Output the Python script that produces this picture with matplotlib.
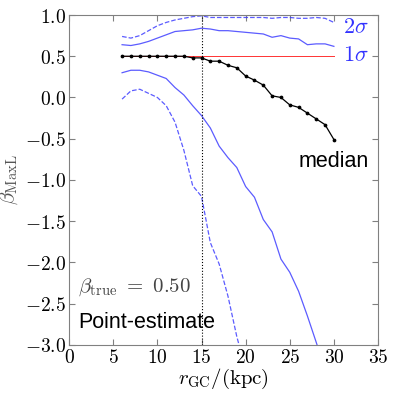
import matplotlib
matplotlib.use("Agg")
import matplotlib.pyplot as plt
from matplotlib.ticker import FuncFormatter
import numpy as np

plt.rcParams['mathtext.fontset'] = 'cm'

# radii (kpc)
r = np.arange(6, 31)

median = [0.50, 0.50, 0.50, 0.50, 0.50, 0.50, 0.50, 0.50, 0.48, 0.48,
          0.44, 0.44, 0.39, 0.36, 0.26, 0.21, 0.15, 0.02, 0.00, -0.09,
          -0.12, -0.19, -0.26, -0.33, -0.51]
up1 = [0.64, 0.63, 0.65, 0.68, 0.72, 0.76, 0.80, 0.81, 0.82, 0.84,
       0.83, 0.81, 0.81, 0.80, 0.79, 0.78, 0.77, 0.73, 0.75, 0.72,
       0.71, 0.64, 0.65, 0.65, 0.62]
up2 = [0.74, 0.72, 0.75, 0.81, 0.87, 0.91, 0.94, 0.96, 0.98, 0.99,
       0.97, 0.97, 0.97, 0.97, 0.97, 0.97, 0.97, 0.96, 0.97, 0.97,
       0.96, 0.96, 0.97, 0.96, 0.91]
lo1 = [0.30, 0.33, 0.33, 0.31, 0.27, 0.23, 0.12, 0.03, -0.10, -0.22,
       -0.37, -0.59, -0.73, -0.85, -1.08, -1.21, -1.48, -1.63, -1.96, -2.12,
       -2.35, -2.65, -2.97, -3.30, -3.60]
lo2 = [-0.02, 0.08, 0.10, 0.05, 0.00, -0.10, -0.30, -0.64, -1.07, -1.20,
       -1.76, -2.02, -2.41, -2.90, -3.30, -3.70, -4.10, -4.50, -4.90, -5.30,
       -5.70, -6.10, -6.50, -6.90, -7.30]
beta_true = 0.50
r_cut = 15

fig = plt.figure(figsize=(3.95, 3.95), dpi=100)
ax = fig.add_axes([0.175, 0.127, 0.782, 0.835])

blue = '#3333ff'
ax.plot(r, up2, '--', color=blue, lw=0.9, alpha=0.8)
ax.plot(r, lo2, '--', color=blue, lw=0.9, alpha=0.8)
ax.plot(r, up1, '-', color=blue, lw=0.9, alpha=0.8)
ax.plot(r, lo1, '-', color=blue, lw=0.9, alpha=0.8)
ax.plot([r[0], r[-1]], [beta_true, beta_true], '-', color='red', lw=0.7,
        alpha=0.8)
ax.plot(r, median, '-', color='black', lw=0.9, marker='o', ms=1.7)
ax.axvline(r_cut, color='black', ls=':', lw=0.8)

ax.set_xlim(0, 35)
ax.set_ylim(-3.0, 1.0)
ax.set_xticks(np.arange(0, 36, 5))
ax.set_yticks(np.arange(-3.0, 1.01, 0.5))
ax.xaxis.set_major_formatter(FuncFormatter(lambda v, p: r'$%d$' % v))
ax.yaxis.set_major_formatter(FuncFormatter(lambda v, p: r'$%.1f$' % v))
ax.tick_params(direction='in', top=True, right=True, labelsize=14,
               color='gray', length=4, pad=2)
for s in ax.spines.values():
    s.set_color('gray')

ax.set_xlabel(r'$r_{\rm GC}/(\rm kpc)$', fontsize=15, labelpad=0)
ax.set_ylabel(r'$\beta_{\rm MaxL}$', fontsize=15, color='#555555', labelpad=3.5)

ax.text(31.0, 0.85, r'$2\sigma$', color=blue, fontsize=16, va='center')
ax.text(31.0, 0.51, r'$1\sigma$', color=blue, fontsize=16, va='center')
ax.text(26.0, -0.84, 'median', fontsize=15.5, family='Liberation Sans',
        va='baseline')
ax.text(1.0, -2.36, r'$\beta_{\rm true}\ =\ %.2f$' % beta_true, fontsize=15,
        color='#444444', va='baseline')
ax.text(1.0, -2.79, 'Point-estimate', fontsize=15.5, family='Liberation Sans',
        va='baseline')

fig.savefig('out.png', dpi=100)
